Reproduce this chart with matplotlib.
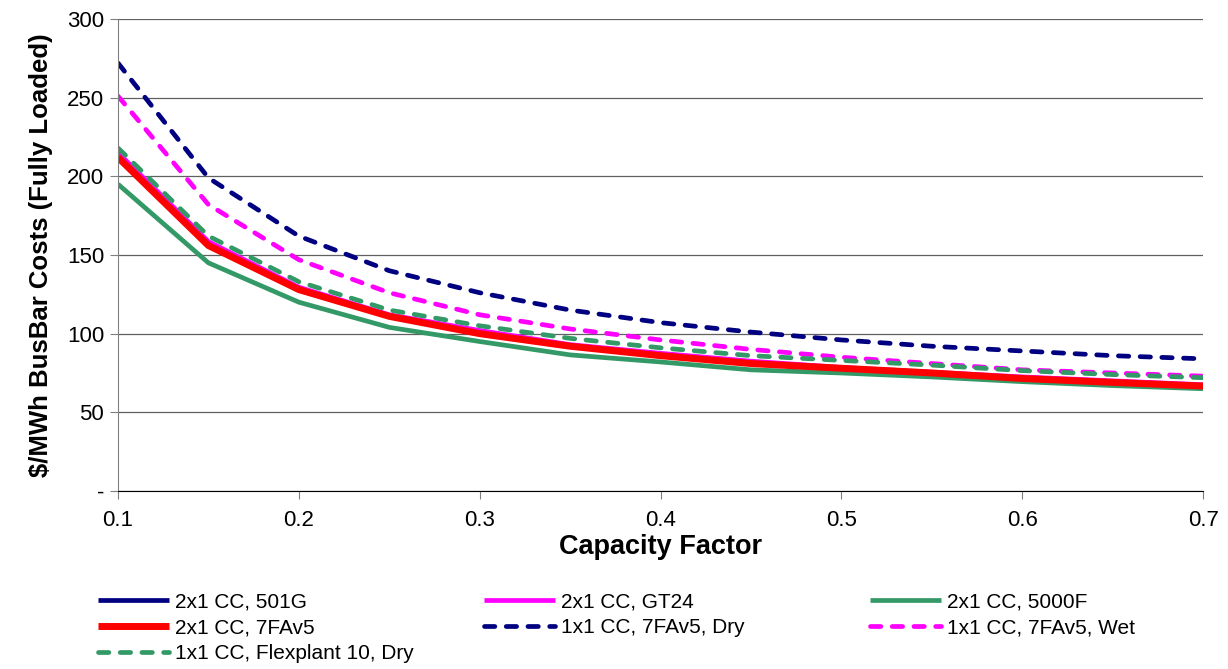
import matplotlib.pyplot as plt

plt.rcParams["font.family"] = ["Liberation Sans", "DejaVu Sans"]

capacity_factor = [0.1, 0.15, 0.2, 0.25, 0.3, 0.35, 0.4, 0.45, 0.5, 0.55, 0.6, 0.65, 0.7]

cc_2x1_501g = [213, 157, 128.5, 111.5, 101, 92.5, 86.5, 81.5, 78, 75, 72, 69.5, 67]
cc_2x1_gt24 = [215, 158.5, 129.5, 112, 102, 93, 87.5, 82.5, 78.5, 75.5, 72.5, 70, 67.5]
cc_2x1_5000f = [195, 145, 120, 104, 95, 86.5, 82, 77, 75, 72.5, 69.5, 67, 65]
cc_2x1_7fav5 = [212, 156, 128, 111, 100, 92, 86, 81, 78, 75, 71.5, 69, 66.7]
cc_1x1_7fav5_dry = [272, 199, 162, 140, 126, 115, 107, 101, 96, 92, 89, 86, 84]
cc_1x1_7fav5_wet = [251, 182, 147, 126, 112, 103, 96, 90, 85, 81, 77, 75, 73]
cc_1x1_flex10_dry = [218, 162, 133, 115, 105, 97, 91, 86, 83, 80, 76.5, 74, 72]

y_ticks = [0, 50, 100, 150, 200, 250, 300]
y_tick_labels = ["-", "50", "100", "150", "200", "250", "300"]
x_ticks = [0.1, 0.2, 0.3, 0.4, 0.5, 0.6, 0.7]

navy = "#000080"
magenta = "#FF00FF"
green = "#339966"
red = "#FF0000"
dash = (0, (2.2, 2.4))

fig = plt.figure(figsize=(12.28, 6.69), dpi=100)
ax = fig.add_axes([0.0961, 0.2661, 0.8836, 0.7055])

series = [
    ("2x1 CC, 501G", cc_2x1_501g, navy, "-", 3.4),
    ("2x1 CC, GT24", cc_2x1_gt24, magenta, "-", 3.4),
    ("2x1 CC, 5000F", cc_2x1_5000f, green, "-", 3.4),
    ("2x1 CC, 7FAv5", cc_2x1_7fav5, red, "-", 5),
    ("1x1 CC, 7FAv5, Dry", cc_1x1_7fav5_dry, navy, dash, 3.4),
    ("1x1 CC, 7FAv5, Wet", cc_1x1_7fav5_wet, magenta, dash, 3.4),
    ("1x1 CC, Flexplant 10, Dry", cc_1x1_flex10_dry, green, dash, 3.4),
]

lines = {}
for name, vals, color, ls, lw in series:
    (ln,) = ax.plot(capacity_factor, vals, color=color, linestyle=ls, linewidth=lw,
                    dash_capstyle="round", solid_capstyle="butt", label=name)
    lines[name] = ln

ax.set_xlim(0.1, 0.7)
ax.set_ylim(0, 300)
ax.set_yticks(y_ticks)
ax.set_yticklabels(y_tick_labels)
ax.set_xticks(x_ticks)
ax.set_xticklabels([f"{t:.1f}" for t in x_ticks])
ax.tick_params(axis="both", labelsize=16, direction="out", length=6, width=0.8,
               color="#808080")
ax.tick_params(axis="x", pad=8)
ax.tick_params(axis="y", pad=4)

ax.grid(axis="y", color="#606060", linewidth=0.9)
ax.set_axisbelow(True)
for side in ("top", "right"):
    ax.spines[side].set_visible(False)
ax.spines["left"].set_color("#808080")
ax.spines["bottom"].set_color("black")

ax.set_xlabel("Capacity Factor", fontsize=19.5, fontweight="bold", labelpad=2)
ax.set_ylabel("$/MWh BusBar Costs (Fully Loaded)", fontsize=18.5, fontweight="bold",
              labelpad=10)

# legend laid out as three columns, each its own legend
columns = [
    (0.080, ["2x1 CC, 501G", "2x1 CC, 7FAv5", "1x1 CC, Flexplant 10, Dry"]),
    (0.394, ["2x1 CC, GT24", "1x1 CC, 7FAv5, Dry"]),
    (0.7085, ["2x1 CC, 5000F", "1x1 CC, 7FAv5, Wet"]),
]
for x0, names in columns:
    fig.legend([lines[n] for n in names], names, loc="upper left",
               bbox_to_anchor=(x0, 0.114), bbox_transform=fig.transFigure,
               frameon=False, fontsize=15, handlelength=3.4, handletextpad=0.3,
               labelspacing=0.32, borderpad=0, borderaxespad=0)

fig.savefig("out.png", dpi=100)
